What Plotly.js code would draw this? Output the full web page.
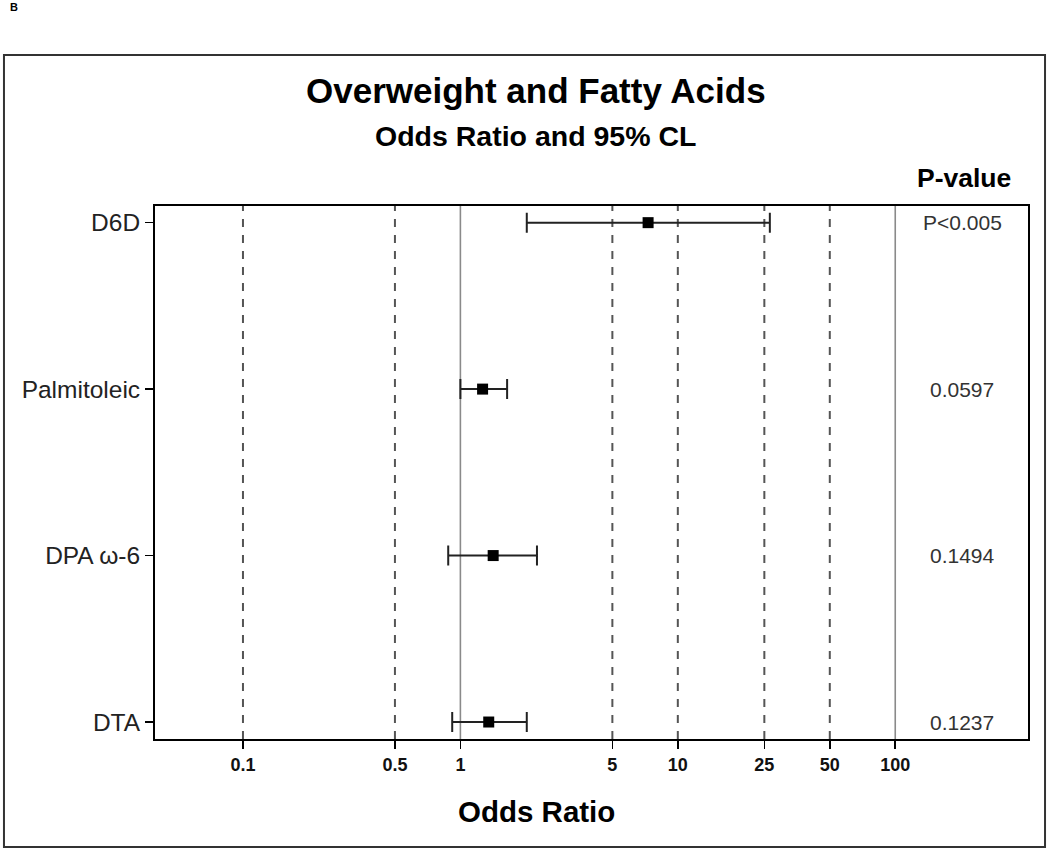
<!DOCTYPE html>
<html>
<head>
<meta charset="utf-8">
<script src="https://cdn.plot.ly/plotly-3.0.1.min.js"></script>
<style>html,body{margin:0;padding:0;background:#fff;}#chart{width:1050px;height:851px;}</style>
</head>
<body>
<div id="chart"></div>
<script>
// ---- data ----
const labels = ['D6D', 'Palmitoleic', 'DPA ω-6', 'DTA'];
const positions = [3, 2, 1, 0];
const oddsRatio = [7.3, 1.265, 1.415, 1.35];
const lowerCL = [2.02, 1.0, 0.879, 0.917];
const upperCL = [26.5, 1.64, 2.25, 2.02];
const pValues = ['P<0.005', '0.0597', '0.1494', '0.1237'];
const tickValues = [0.1, 0.5, 1, 5, 10, 25, 50, 100];
const tickLabels = ['0.1', '0.5', '1', '5', '10', '25', '50', '100'];
const dashedRefs = [0.1, 0.5, 5, 10, 25, 50];
const solidRefs = [1, 100];

const FONT = '"Liberation Sans", Arial, Helvetica, sans-serif';

const trace = {
  type: 'scatter',
  mode: 'markers',
  x: oddsRatio,
  y: positions,
  marker: {symbol: 'square', size: 11, color: '#000'},
  error_x: {
    type: 'data', symmetric: false,
    array: upperCL.map((u, i) => u - oddsRatio[i]),
    arrayminus: lowerCL.map((l, i) => oddsRatio[i] - l),
    color: '#222', thickness: 2, width: 10
  },
  hoverinfo: 'skip',
  showlegend: false
};

const shapes = [];
dashedRefs.forEach(v => shapes.push({
  type: 'line', xref: 'x', yref: 'paper', x0: v, x1: v, y0: 0, y1: 1,
  line: {color: '#555', width: 2, dash: '8px,8px'}, layer: 'below'
}));
solidRefs.forEach(v => shapes.push({
  type: 'line', xref: 'x', yref: 'paper', x0: v, x1: v, y0: 0, y1: 1,
  line: {color: '#8a8a8a', width: 1.6}, layer: 'below'
}));
// outer frame
shapes.push({
  type: 'rect', xref: 'paper', yref: 'paper', x0: -0.1730, x1: 1.0195, y0: -0.2026, y1: 1.2833,
  line: {color: '#333', width: 2}, fillcolor: 'rgba(0,0,0,0)'
});

const annotations = [
  {text: 'Overweight and Fatty Acids', xref: 'paper', yref: 'paper', x: 0.4364, y: 1.2176,
   showarrow: false, font: {family: FONT, size: 35, color: '#000', weight: 'bold'}, xanchor: 'center', yanchor: 'middle'},
  {text: 'Odds Ratio and 95% CL', xref: 'paper', yref: 'paper', x: 0.4364, y: 1.1313,
   showarrow: false, font: {family: FONT, size: 28.5, color: '#000', weight: 'bold'}, xanchor: 'center', yanchor: 'middle'},
  {text: 'Odds Ratio', xref: 'paper', yref: 'paper', x: 0.4375, y: -0.1351,
   showarrow: false, font: {family: FONT, size: 29.5, color: '#000', weight: 'bold'}, xanchor: 'center', yanchor: 'middle'},
  {text: 'P-value', xref: 'paper', yref: 'paper', x: 0.9267, y: 1.0525,
   showarrow: false, font: {family: FONT, size: 26.5, color: '#000', weight: 'bold'}, xanchor: 'center', yanchor: 'middle'},
  {text: 'B', xref: 'paper', yref: 'paper', x: -0.1615, y: 1.373,
   showarrow: false, font: {family: FONT, size: 11, color: '#000', weight: 'bold'}, xanchor: 'center', yanchor: 'middle'}
];
pValues.forEach((p, i) => annotations.push({
  text: p, xref: 'paper', yref: 'y', x: 0.9244, y: positions[i],
  showarrow: false, font: {family: FONT, size: 21, color: '#333'}, xanchor: 'center', yanchor: 'middle'
}));

const layout = {
  width: 1050, height: 851,
  margin: {l: 155, r: 22, t: 206, b: 112, pad: 0},
  paper_bgcolor: '#fff', plot_bgcolor: '#fff',
  font: {family: FONT, color: '#000'},
  showlegend: false,
  xaxis: {
    type: 'log', range: [-1.4046, 2.6106],
    tickmode: 'array', tickvals: tickValues, ticktext: tickLabels,
    ticks: 'outside', ticklen: 8, tickwidth: 1.5, tickcolor: '#000',
    tickfont: {family: FONT, size: 18, color: '#111', weight: 'bold'},
    showgrid: false, zeroline: false,
    showline: true, mirror: true, linecolor: '#000', linewidth: 2
  },
  yaxis: {
    range: [-0.102, 3.10],
    tickmode: 'array', tickvals: positions, ticktext: labels,
    ticks: 'outside', ticklen: 8, tickwidth: 1.5, tickcolor: '#000',
    tickfont: {family: FONT, size: 24.5, color: '#222'},
    showgrid: false, zeroline: false,
    showline: true, mirror: true, linecolor: '#000', linewidth: 2
  },
  shapes: shapes,
  annotations: annotations
};

Plotly.newPlot('chart', [trace], layout, {displayModeBar: false, staticPlot: true});
</script>
</body>
</html>
